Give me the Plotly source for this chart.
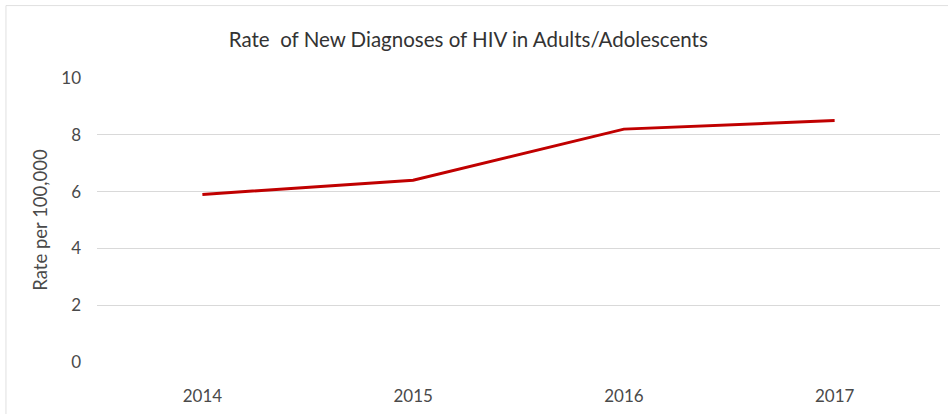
import plotly.graph_objects as go

years = ["2014", "2015", "2016", "2017"]
rates = [5.9, 6.4, 8.2, 8.5]
y_ticks = [0, 2, 4, 6, 8, 10]

fig = go.Figure()
fig.add_trace(go.Scatter(
    x=years, y=rates, mode="lines",
    line=dict(color="#c00000", width=3),
    hoverinfo="x+y",
))

font_family = "Lato, Open Sans, Arial"
text_color = "#4a4a4a"

fig.update_layout(
    width=948, height=414,
    margin=dict(l=97, r=8, t=78, b=50),
    paper_bgcolor="white", plot_bgcolor="white",
    showlegend=False,
    title=dict(
        text="Rate  of New Diagnoses of HIV in Adults/Adolescents",
        x=0.494, xanchor="center", y=0.905, yanchor="middle",
        font=dict(family=font_family, size=20.5, color="#333333"),
    ),
    xaxis=dict(
        type="category", range=[-0.5, 3.5],
        showgrid=False, zeroline=False, showline=False,
        ticks="", ticklabelstandoff=22,
        tickfont=dict(family=font_family, size=17, color=text_color),
    ),
    yaxis=dict(
        range=[0, 10], tickvals=y_ticks,
        showgrid=True, gridcolor="#d9d9d9", gridwidth=1,
        zeroline=False, showline=False, ticks="",
        ticklabelstandoff=15,
        tickfont=dict(family=font_family, size=17, color=text_color),
        title=dict(text="Rate per 100,000", standoff=8,
                   font=dict(family=font_family, size=18.5, color=text_color)),
    ),
    shapes=[dict(
        type="rect", xref="paper", yref="paper",
        x0=-0.108, x1=1.1, y0=-0.4, y1=1.255,
        line=dict(color="#e0e0e0", width=1), fillcolor="rgba(0,0,0,0)",
        layer="below",
    )],
)

fig.write_html("out.html")
